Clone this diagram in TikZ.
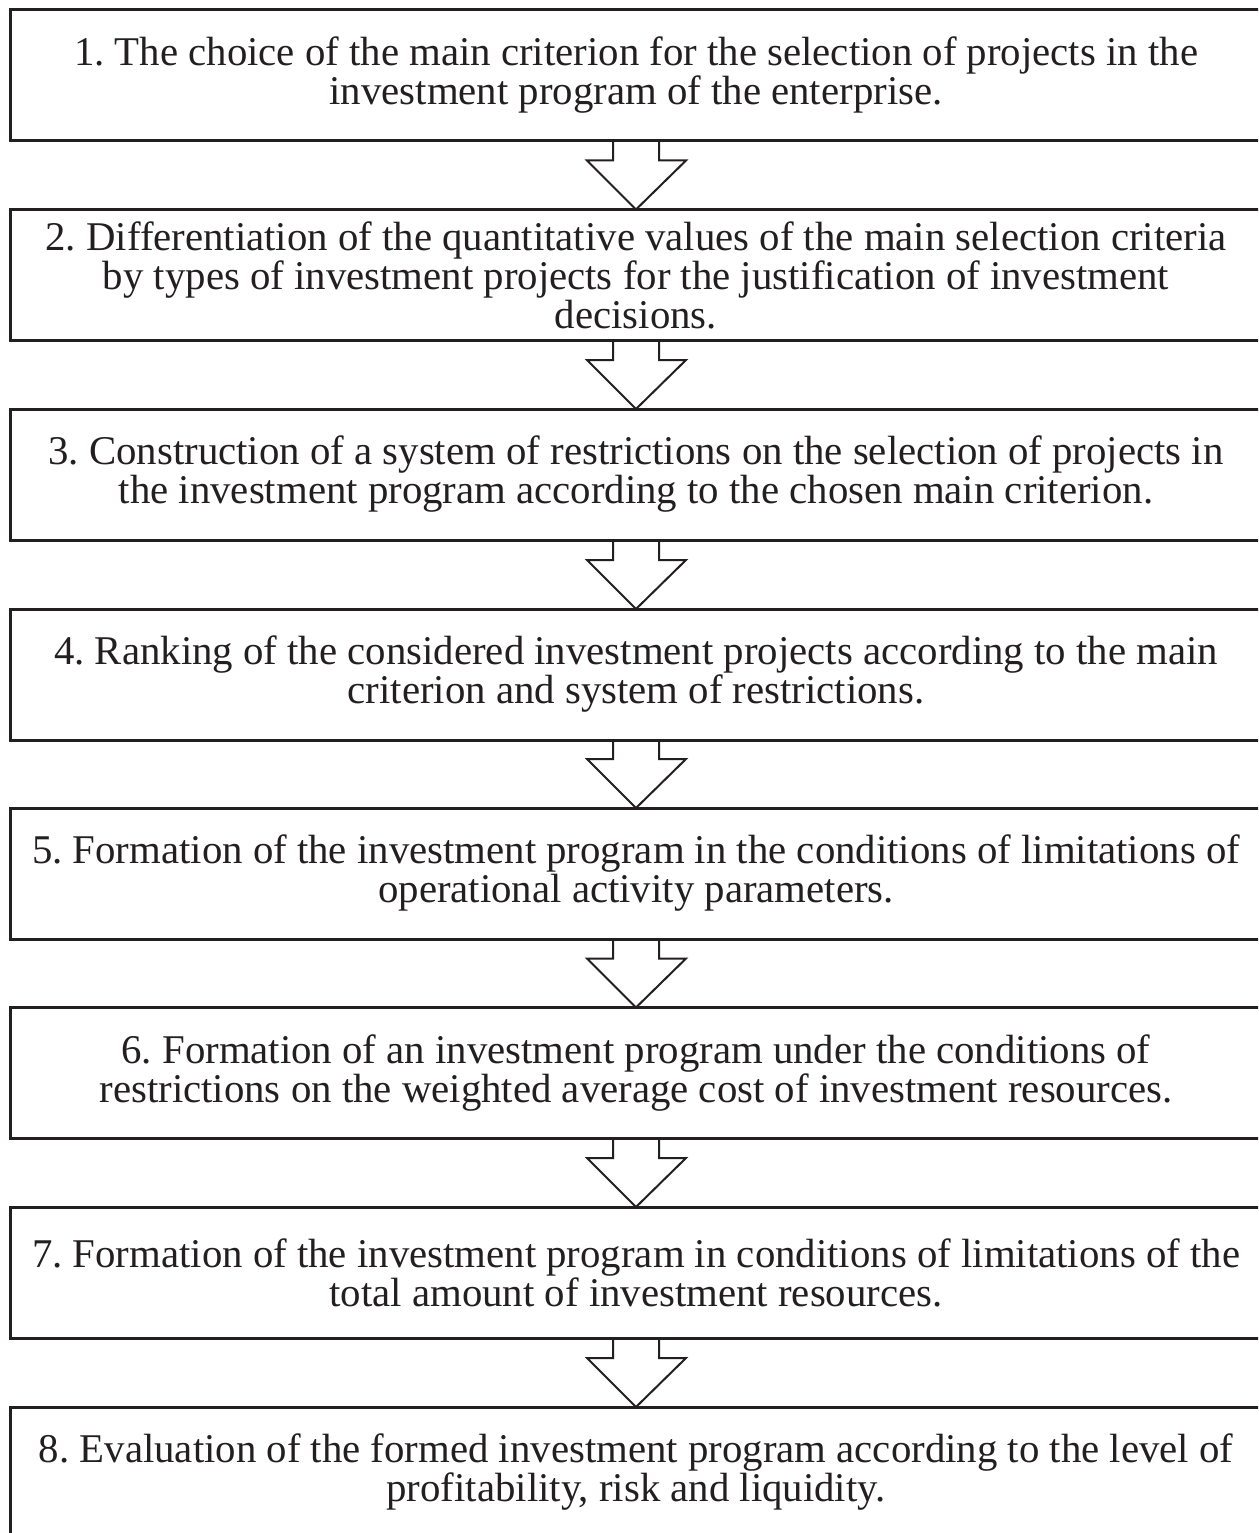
\documentclass[tikz,border=0pt]{standalone}
\usepackage{fontspec}
\setmainfont{Liberation Serif}
\usetikzlibrary{calc}
\definecolor{ink}{HTML}{231F20}
\frenchspacing
\begin{document}
\begin{tikzpicture}[x=1pt,y=-1pt,
  stepbox/.style={draw=ink, line width=3pt, rectangle, inner sep=0pt, outer sep=0pt,
    minimum width=1252pt, minimum height=131pt, align=center, text=ink,
    font=\fontsize{40.8pt}{39pt}\selectfont},
  hollowarrow/.style={draw=ink, line width=2pt, line join=miter}]
\clip (0,0) rectangle (1258,1533);
\fill[white] (0,0) rectangle (1258,1533);

\node[stepbox] (b1) at (636,75.5) {1. The choice of the main criterion for the selection of projects in the\\investment program of the enterprise.};
\node[stepbox] (b2) at (636,275) {2. Differentiation of the quantitative values of the main selection criteria\\by types of investment projects for the justification of investment\\decisions.};
\node[stepbox] (b3) at (636,474.5) {3. Construction of a system of restrictions on the selection of projects in\\the investment program according to the chosen main criterion.};
\node[stepbox] (b4) at (636,674.5) {4. Ranking of the considered investment projects according to the main\\criterion and system of restrictions.};
\node[stepbox] (b5) at (636,873.5) {5. Formation of the investment program in the conditions of limitations of\\operational activity parameters.};
\node[stepbox] (b6) at (636,1073) {6. Formation of an investment program under the conditions of\\restrictions on the weighted average cost of investment resources.};
\node[stepbox] (b7) at (636,1272.5) {7. Formation of the investment program in conditions of limitations of the\\total amount of investment resources.};
\node[stepbox] (b8) at (636,1472.5) {8. Evaluation of the formed investment program according to the level of\\profitability, risk and liquidity.};

% hollow block arrows between consecutive steps
\foreach \a/\b in {b1/b2,b2/b3,b3/b4,b4/b5,b5/b6,b6/b7,b7/b8}{
  \draw[hollowarrow] ($(\a.south)+(-23,0)$) -- ($(\b.north)+(-23,-49)$)
    -- ($(\b.north)+(-49,-49)$) -- (\b.north) -- ($(\b.north)+(50,-49)$)
    -- ($(\b.north)+(23,-49)$) -- ($(\a.south)+(23,0)$);
}
\end{tikzpicture}
\end{document}
